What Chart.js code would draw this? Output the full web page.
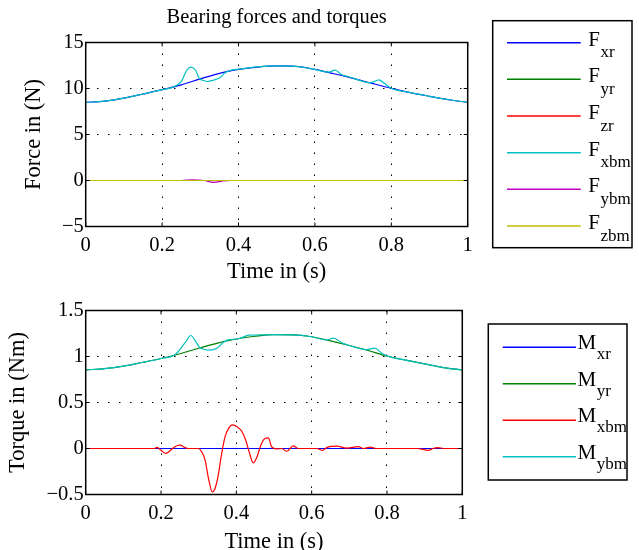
<!DOCTYPE html>
<html>
<head>
<meta charset="utf-8">
<script src="https://cdn.jsdelivr.net/npm/chart.js@4"></script>
<style>
  html, body { margin: 0; padding: 0; background: #fff; overflow: hidden; width: 639px; height: 550px; }
  canvas { position: absolute; left: 0; }
  #forcas { top: 0; }
  #torques { top: 280px; }
</style>
</head>
<body>
<canvas id="forcas" width="639" height="300"></canvas>
<canvas id="torques" width="639" height="290"></canvas>
<script>
const FONTE = '"Liberation Serif", "Times New Roman", serif';

// eixo de tempo das curvas suaves (s)
const tSuave = [0, 0.05, 0.1, 0.15, 0.2, 0.25, 0.3, 0.35, 0.4, 0.45, 0.5, 0.55, 0.6, 0.65, 0.7, 0.75, 0.8, 0.85, 0.9, 0.95, 1];
const tPlano = [0, 1];

// forcas (N)
const fxr = [8.50, 8.62, 8.95, 9.40, 9.87, 10.40, 11.05, 11.65, 12.07, 12.33, 12.45, 12.40, 12.07, 11.60, 11.10, 10.55, 10.02, 9.55, 9.15, 8.78, 8.50];
const fyr = [0, 0];
const fzr = [0, 0];
const tFxbm = [0, 0.05, 0.1, 0.15, 0.2, 0.233, 0.251, 0.264, 0.276, 0.288, 0.297, 0.308, 0.319, 0.334, 0.352, 0.365, 0.378, 0.4, 0.45, 0.5, 0.55, 0.6, 0.636, 0.653, 0.67, 0.685, 0.7, 0.745, 0.768, 0.785, 0.8, 0.85, 0.9, 0.95, 1];
const fxbm = [8.50, 8.62, 8.95, 9.40, 9.87, 10.22, 10.80, 11.96, 12.32, 11.96, 11.12, 10.87, 10.76, 10.90, 11.20, 11.70, 11.96, 12.10, 12.35, 12.45, 12.40, 12.07, 11.78, 11.99, 11.50, 11.32, 11.12, 10.62, 10.94, 10.45, 10.02, 9.55, 9.15, 8.78, 8.50];
const tFybm = [0, 0.25, 0.28, 0.31, 0.335, 0.36, 0.38, 1];
const fybm = [0, 0, 0.08, 0, -0.2, -0.05, 0, 0];
const fzbm = [0, 0];

// torques (Nm)
const mxr = [0, 0];
const myr = [0.855, 0.868, 0.895, 0.935, 0.978, 1.03, 1.09, 1.145, 1.19, 1.22, 1.238, 1.236, 1.215, 1.17, 1.12, 1.065, 1.005, 0.96, 0.92, 0.88, 0.855];
const tMxbm = [0, 0.18, 0.19, 0.2, 0.213, 0.225, 0.237, 0.25, 0.264, 0.272, 0.299, 0.308, 0.317, 0.326, 0.336, 0.343, 0.352, 0.361, 0.37, 0.379, 0.39, 0.403, 0.414, 0.425, 0.434, 0.445, 0.455, 0.465, 0.476, 0.485, 0.494, 0.507, 0.52, 0.534, 0.551, 0.565, 0.614, 0.629, 0.64, 0.667, 0.693, 0.724, 0.737, 0.755, 0.772, 0.88, 0.91, 0.922, 0.935, 0.95, 1];
const mxbm = [0, 0, 0.012, -0.02, -0.054, -0.02, 0.02, 0.036, 0.01, 0, 0, -0.036, -0.127, -0.325, -0.473, -0.44, -0.29, -0.055, 0.126, 0.216, 0.256, 0.234, 0.19, 0.09, -0.037, -0.156, -0.09, 0.036, 0.108, 0.115, 0.017, -0.005, 0, -0.03, 0.028, 0, 0, -0.02, 0.01, 0.025, 0.005, 0.02, 0, 0.015, 0, 0, -0.02, 0, 0.01, 0, 0];
const tMybm = [0, 0.05, 0.1, 0.15, 0.2, 0.237, 0.265, 0.279, 0.291, 0.302, 0.316, 0.33, 0.348, 0.366, 0.38, 0.403, 0.434, 0.46, 0.5, 0.55, 0.6, 0.64, 0.658, 0.68, 0.7, 0.745, 0.768, 0.785, 0.8, 0.85, 0.9, 0.95, 1];
const mybm = [0.855, 0.868, 0.895, 0.935, 0.978, 1.018, 1.155, 1.228, 1.17, 1.10, 1.076, 1.07, 1.09, 1.155, 1.184, 1.19, 1.232, 1.234, 1.238, 1.236, 1.215, 1.18, 1.20, 1.15, 1.12, 1.075, 1.09, 1.04, 1.005, 0.96, 0.92, 0.88, 0.855];

// ticks e legendas
const ticksTempo = [0, 0.2, 0.4, 0.6, 0.8, 1];
const ticksForca = [-5, 0, 5, 10, 15];
const ticksTorque = [-0.5, 0, 0.5, 1, 1.5];
const subsForca = ['xr', 'yr', 'zr', 'xbm', 'ybm', 'zbm'];
const subsTorque = ['xr', 'yr', 'xbm', 'ybm'];

const fmt = v => String(v).replace('-', '\u2212');

function serie(t, v, cor) {
  return {
    data: t.map((x, i) => ({ x, y: v[i] })),
    borderColor: cor,
    borderWidth: 1.2,
    pointRadius: 0,
    cubicInterpolationMode: 'monotone',
    fill: false
  };
}

// caixa, ticks internos, titulo e legenda no estilo matlab
const moldura = {
  id: 'moldura',
  afterDatasetsDraw(chart, args, opts) {
    const { ctx, chartArea: a, scales: { x, y } } = chart;
    ctx.save();
    ctx.strokeStyle = '#000';
    ctx.lineWidth = 1;
    ctx.beginPath();
    x.ticks.forEach(t => {
      const px = x.getPixelForValue(t.value);
      ctx.moveTo(px, a.bottom); ctx.lineTo(px, a.bottom - 4);
      ctx.moveTo(px, a.top); ctx.lineTo(px, a.top + 4);
    });
    y.ticks.forEach(t => {
      const py = y.getPixelForValue(t.value);
      ctx.moveTo(a.left, py); ctx.lineTo(a.left + 4, py);
      ctx.moveTo(a.right, py); ctx.lineTo(a.right - 4, py);
    });
    ctx.stroke();
    ctx.lineWidth = 1.5;
    ctx.strokeRect(a.left, a.top, a.right - a.left, a.bottom - a.top);

    ctx.fillStyle = '#000';
    if (opts.titulo) {
      ctx.font = '20.5px ' + FONTE;
      ctx.textAlign = 'center';
      ctx.textBaseline = 'middle';
      ctx.fillText(opts.titulo, (a.left + a.right) / 2, opts.tituloY);
    }

    const L = opts.legenda;
    ctx.lineWidth = 1.5;
    ctx.strokeRect(L.left, L.top, L.right - L.left, L.bottom - L.top);
    ctx.textAlign = 'left';
    ctx.textBaseline = 'alphabetic';
    L.subs.forEach((s, i) => {
      const ly = L.y0 + i * L.passo;
      ctx.strokeStyle = chart.data.datasets[i].borderColor;
      ctx.lineWidth = 1.5;
      ctx.beginPath();
      ctx.moveTo(L.x1, ly); ctx.lineTo(L.x2, ly);
      ctx.stroke();
      ctx.font = '21px ' + FONTE;
      ctx.fillText(L.base, L.tx, ly + L.baseOff);
      const w = ctx.measureText(L.base).width;
      ctx.font = '17px ' + FONTE;
      ctx.fillText(s, L.tx + w + 0.5, ly + L.subOff);
    });
    ctx.restore();
  }
};

function escalas(yTicks, yTitulo, yPad, xAltura, xPad) {
  const yMin = yTicks[0], yMax = yTicks[yTicks.length - 1];
  const grade = (lo, hi) => ({
    color: c => (c.tick && (c.tick.value === lo || c.tick.value === hi)) ? 'rgba(0,0,0,0)' : '#000',
    lineWidth: 1,
    drawTicks: false,
    borderDash: [1.5, 9.5]
  });
  return {
    x: {
      type: 'linear', min: 0, max: 1,
      afterBuildTicks: s => { s.ticks = ticksTempo.map(v => ({ value: v })); },
      afterFit: s => { s.height = xAltura; },
      ticks: { font: { family: FONTE, size: 20.5 }, color: '#000', padding: 7, maxRotation: 0, autoSkip: false, callback: fmt },
      grid: grade(0, 1),
      border: { display: false, dash: [1.5, 9.5] },
      title: { display: true, text: 'Time in (s)', color: '#000', font: { family: FONTE, size: 22.5 }, padding: { top: 0, bottom: xPad } }
    },
    y: {
      type: 'linear', min: yMin, max: yMax,
      afterBuildTicks: s => { s.ticks = yTicks.map(v => ({ value: v })); },
      afterFit: s => { s.width = 85.7; },
      ticks: { font: { family: FONTE, size: 20.5 }, color: '#000', padding: 2, autoSkip: false, callback: fmt },
      grid: grade(yMin, yMax),
      border: { display: false, dash: [1.5, 9.5] },
      title: { display: true, text: yTitulo, color: '#000', font: { family: FONTE, size: 22.5 }, padding: { top: yPad, bottom: 0 } }
    }
  };
}

function ordenar(ds) {
  ds.forEach((d, i) => { d.order = -i; }); // ultimo por cima, como no matlab
  return ds;
}

new Chart(document.getElementById('forcas'), {
  type: 'line',
  data: {
    datasets: ordenar([
      serie(tSuave, fxr, '#0000ff'),
      serie(tPlano, fyr, '#008000'),
      serie(tPlano, fzr, '#ff0000'),
      serie(tFxbm, fxbm, '#00bfbf'),
      serie(tFybm, fybm, '#bf00bf'),
      serie(tPlano, fzbm, '#bfbf00')
    ])
  },
  options: {
    responsive: false,
    animation: false,
    layout: { padding: { top: 42.5, right: 171.3, left: 0, bottom: 0 } },
    scales: escalas(ticksForca, 'Force in (N)', 20.5, 73.5, 14.5),
    plugins: {
      legend: { display: false },
      tooltip: { enabled: false },
      moldura: {
        titulo: 'Bearing forces and torques', tituloY: 18,
        legenda: { left: 492.7, top: 20.7, right: 632, bottom: 247.7, x1: 507, x2: 580.7, y0: 42.7, passo: 36.66, base: 'F', tx: 588.3, baseOff: 3, subOff: 14.6, subs: subsForca }
      }
    }
  },
  plugins: [moldura]
});

new Chart(document.getElementById('torques'), {
  type: 'line',
  data: {
    datasets: ordenar([
      serie(tPlano, mxr, '#0000ff'),
      serie(tSuave, myr, '#008000'),
      serie(tMxbm, mxbm, '#ff0000'),
      serie(tMybm, mybm, '#00bfbf')
    ])
  },
  options: {
    responsive: false,
    animation: false,
    layout: { padding: { top: 30.5, right: 176.7, left: 0, bottom: 0 } },
    scales: escalas(ticksTorque, 'Torque in (Nm)', 5, 75.5, 14.5),
    plugins: {
      legend: { display: false },
      tooltip: { enabled: false },
      moldura: {
        legenda: { left: 488.3, top: 44, right: 627, bottom: 200, x1: 502.7, x2: 576, y0: 67.3, passo: 36.5, base: 'M', tx: 577.5, baseOff: 2, subOff: 12, subs: subsTorque }
      }
    }
  },
  plugins: [moldura]
});
</script>
</body>
</html>
